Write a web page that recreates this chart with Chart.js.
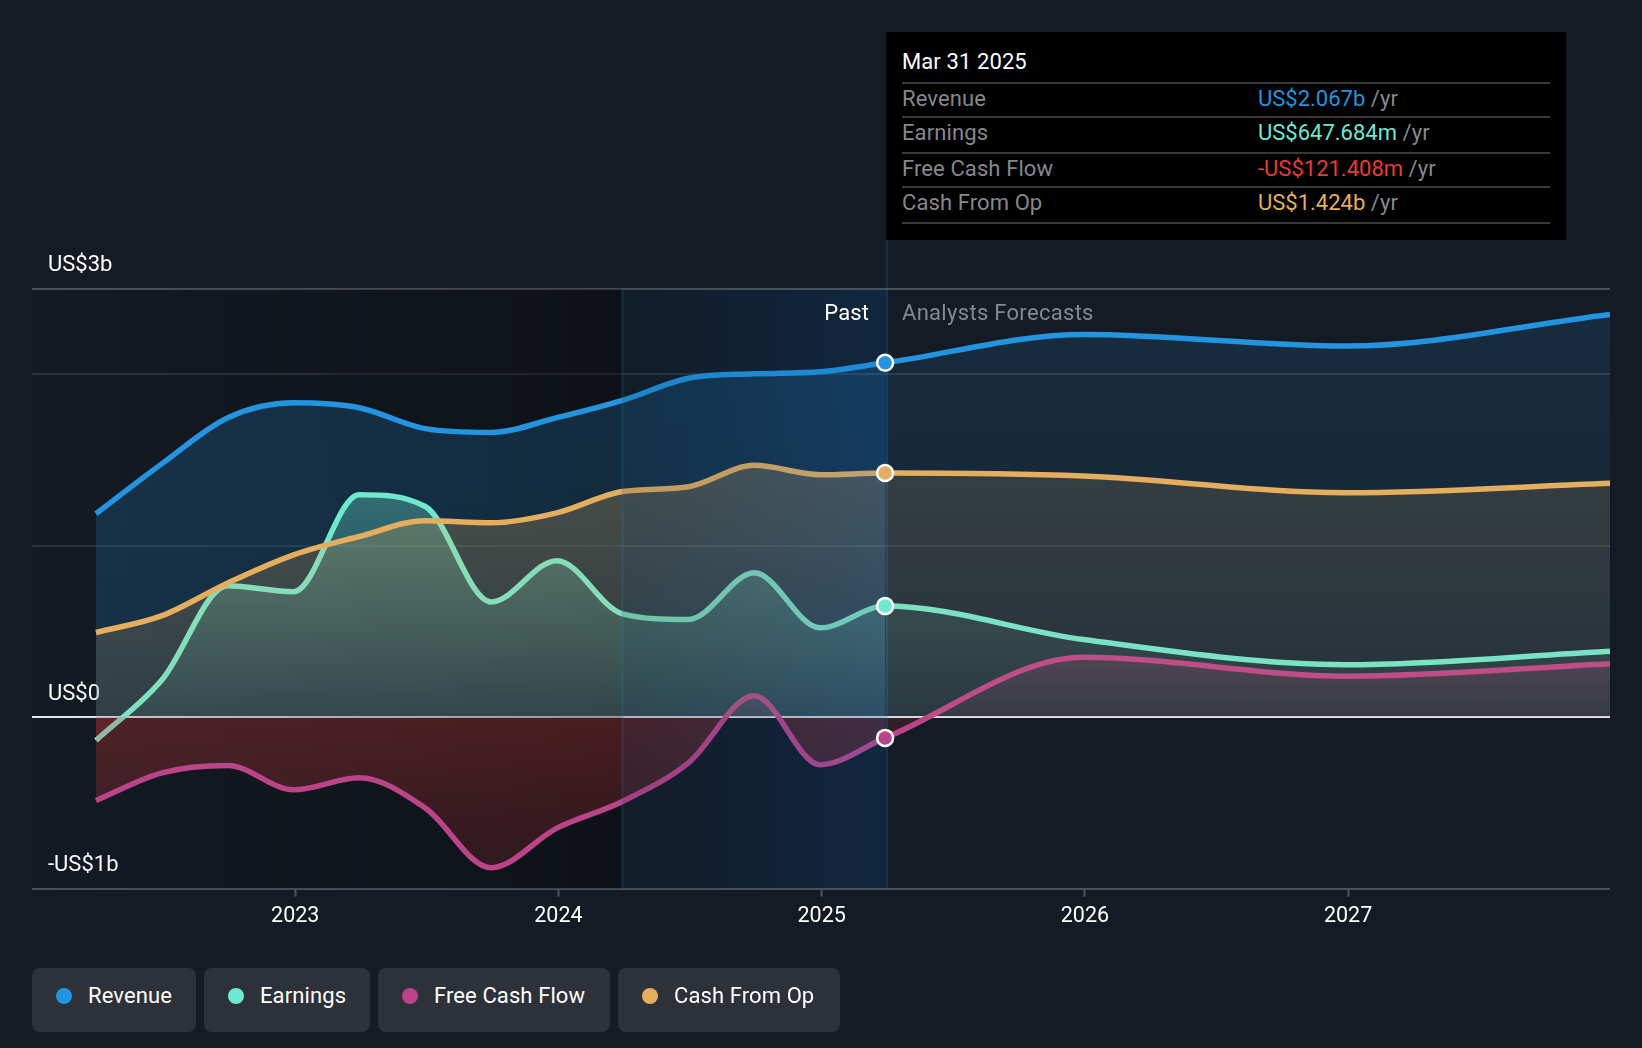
<!DOCTYPE html>
<html><head><meta charset="utf-8">
<script src="https://cdn.jsdelivr.net/npm/chart.js@4"></script>
<style>
html,body{margin:0;padding:0;background:#151b24;width:1642px;height:1048px;overflow:hidden;font-family:Roboto,sans-serif;}
#wrap{position:absolute;left:0;top:0;width:1642px;height:1048px;}
canvas{position:absolute;left:0;top:0;}
.t{position:absolute;white-space:nowrap;font-size:22px;letter-spacing:.1px;line-height:26px;color:#fff;}
.t span{letter-spacing:0;}
.tip{position:absolute;left:886px;top:32px;width:680px;height:208px;background:#000;}
.sep{position:absolute;left:16px;width:648px;height:2px;background:#383838;}
.g{color:#85888c;}
.pill{position:absolute;top:968px;height:64px;background:#2d313a;border-radius:8px;}
.dot{position:absolute;top:20px;left:24px;width:16px;height:16px;border-radius:50%;}
.pill .t{left:56px;top:15px;}
</style></head><body>
<div id="wrap"><canvas id="c" width="1642" height="1048" style="width:1642px;height:1048px"></canvas>
<div class="t" style="right:773px;top:300px;">Past</div>
<div class="t g" style="left:902px;top:300px;letter-spacing:.3px;">Analysts Forecasts</div>
<div class="tip">
 <div class="t" style="left:16px;top:17px;">Mar 31 2025</div>
 <div class="sep" style="top:50px"></div>
 <div class="t g" style="left:16px;top:54px;">Revenue</div>
 <div class="t g" style="left:372px;top:54px;"><span style="color:#2394df">US$2.067b</span> /yr</div>
 <div class="sep" style="top:84px"></div>
 <div class="t g" style="left:16px;top:88px;">Earnings</div>
 <div class="t g" style="left:372px;top:88px;"><span style="color:#6fe8d0">US$647.684m</span> /yr</div>
 <div class="sep" style="top:120px"></div>
 <div class="t g" style="left:16px;top:124px;">Free Cash Flow</div>
 <div class="t g" style="left:372px;top:124px;"><span style="color:#e93a3a">-US$121.408m</span> /yr</div>
 <div class="sep" style="top:154px"></div>
 <div class="t g" style="left:16px;top:158px;">Cash From Op</div>
 <div class="t g" style="left:372px;top:158px;"><span style="color:#e5ae5e">US$1.424b</span> /yr</div>
 <div class="sep" style="top:190px"></div>
</div>
<div class="pill" style="left:32px;width:164px"><div class="dot" style="background:#2394df"></div><div class="t">Revenue</div></div>
<div class="pill" style="left:204px;width:166px"><div class="dot" style="background:#6fe8d0"></div><div class="t">Earnings</div></div>
<div class="pill" style="left:378px;width:232px"><div class="dot" style="background:#bb4488"></div><div class="t">Free Cash Flow</div></div>
<div class="pill" style="left:618px;width:222px"><div class="dot" style="background:#e5ae5e"></div><div class="t">Cash From Op</div></div>
</div>
<script>
// Time axis in decimal years; 2025.241 = Mar 31 2025
const years = [2022.243,2022.494,2022.744,2022.994,2023.243,2023.494,2023.744,2023.994,2024.243,2024.494,2024.744,2024.994,2025.241,2025.994,2026.994,2027.995];
const revenue  = [1.187,1.479,1.747,1.834,1.805,1.683,1.661,1.747,1.848,1.977,2.003,2.015,2.067,2.232,2.165,2.349];
const earnings = [-0.136,0.218,0.767,0.732,1.298,1.229,0.672,0.913,0.603,0.570,0.842,0.521,0.648,0.453,0.306,0.385];
const freeCashFlow = [-0.486,-0.325,-0.282,-0.424,-0.354,-0.530,-0.878,-0.647,-0.492,-0.266,0.125,-0.277,-0.121,0.349,0.239,0.312];
const cashFromOp = [0.494,0.592,0.783,0.947,1.054,1.146,1.134,1.192,1.316,1.344,1.469,1.414,1.424,1.407,1.309,1.364];
const yTicks = [-1,0,1,2,2.5];
const yLabels = {"-1":"-US$1b","0":"US$0","2.5":"US$3b"};
const xTicks = [2023,2024,2025,2026,2027];
const NOW = 2025.241, BAND_START = 2024.243;
const C = {rev:'#2394df',ear:'#6fe8d0',fcf:'#bb4488',cfo:'#e5ae5e'};

const cache = {};
function grad(chart,key,stops){
  if(cache[key]) return cache[key];
  const s=chart.scales.y,a=chart.chartArea;
  const g=chart.ctx.createLinearGradient(0,a.top,0,a.bottom);
  stops.forEach(([v,c])=>{
    const o=(s.getPixelForValue(v)-a.top)/(a.bottom-a.top);
    g.addColorStop(Math.min(1,Math.max(0,o)),c);
  });
  return cache[key]=g;
}
const RED='233,58,58', rgbRev='35,148,223', rgbEar='111,232,208', rgbFcf='187,68,136', rgbCfo='229,174,94';
const fills={
 rev:{past:[[2.5,`rgba(${rgbRev},.21)`],[0,`rgba(${rgbRev},.18)`],[0,'rgba(0,0,0,0)']],
      fut:[[2.5,`rgba(${rgbRev},.14)`],[0,`rgba(${rgbRev},.10)`],[0,'rgba(0,0,0,0)']]},
 ear:{past:[[1.4,`rgba(${rgbEar},.36)`],[0,`rgba(${rgbEar},.07)`],[0,`rgba(${RED},.12)`],[-1,`rgba(${RED},.1)`]],
      fut:[[0.65,`rgba(${rgbEar},.12)`],[0,`rgba(${rgbEar},.04)`],[0,'rgba(0,0,0,0)']]},
 fcf:{past:[[0.2,`rgba(${rgbFcf},.25)`],[0,`rgba(${rgbFcf},.12)`],[0,`rgba(${RED},.27)`],[-1,`rgba(${RED},.13)`]],
      fut:[[0.35,`rgba(${rgbFcf},.22)`],[0,`rgba(${rgbFcf},.08)`],[0,`rgba(${RED},.14)`],[-1,`rgba(${RED},.1)`]]},
 cfo:{past:[[1.5,`rgba(${rgbCfo},.27)`],[0,`rgba(${rgbCfo},.12)`],[0,'rgba(0,0,0,0)']],
      fut:[[1.4,`rgba(${rgbCfo},.15)`],[0,`rgba(${rgbCfo},.08)`],[0,'rgba(0,0,0,0)']]}
};
function series(label,vals,key,order){
  return {label,order,data:vals.map((v,i)=>({x:years[i],y:v})),borderColor:C[key],borderWidth:5.5,
    pointRadius:0,cubicInterpolationMode:'monotone',fill:'origin',borderCapStyle:'butt',
    segment:{backgroundColor:c=>c.p0.parsed.x>=NOW?grad(c.chart,key+'f',fills[key].fut):grad(c.chart,key+'p',fills[key].past)}};
}
const idx=years.indexOf(NOW);
const overlay={
 id:'overlay',
 beforeDatasetsDraw(chart){
  const {ctx,chartArea:a,scales:{x}}=chart;
  const xb=x.getPixelForValue(BAND_START);
  const g=ctx.createLinearGradient(a.left,0,xb,0);
  g.addColorStop(0,'rgba(0,0,0,0)');g.addColorStop(1,'rgba(0,0,0,.34)');
  ctx.save();ctx.fillStyle=g;ctx.fillRect(a.left,a.top,xb-a.left,a.bottom-a.top);ctx.restore();
 },
 afterDatasetDraw(chart,args){
  if(chart.data.datasets[args.index].label!=='Cash From Op') return;
  const {ctx,chartArea:a,scales:{x}}=chart;
  const xb=x.getPixelForValue(BAND_START),xn=x.getPixelForValue(NOW)+2;
  const g=ctx.createLinearGradient(xb,0,xn,0);
  g.addColorStop(0,'rgba(0,40,70,.15)');g.addColorStop(1,'rgba(2,103,211,.16)');
  ctx.save();ctx.fillStyle=g;ctx.fillRect(xb,a.top,xn-xb,a.bottom-a.top);
  ctx.strokeStyle='rgba(60,130,180,.2)';ctx.lineWidth=2;
  ctx.beginPath();ctx.moveTo(xb,a.top);ctx.lineTo(xb,a.bottom);ctx.stroke();
  ctx.beginPath();ctx.moveTo(xn,240);ctx.lineTo(xn,a.bottom);ctx.stroke();
  ctx.restore();
 }
};
new Chart(document.getElementById('c'),{
 type:'line',
 data:{datasets:[
  series('Revenue',revenue,'rev',4),
  series('Earnings',earnings,'ear',3),
  series('Free Cash Flow',freeCashFlow,'fcf',2),
  series('Cash From Op',cashFromOp,'cfo',1),
  {label:'Mar 31 2025',order:0,showLine:false,fill:false,
   data:[revenue,earnings,freeCashFlow,cashFromOp].map(s=>({x:NOW,y:s[idx]})),
   pointRadius:8,pointBorderWidth:2.5,pointBorderColor:'#fff',
   pointBackgroundColor:[C.rev,C.ear,C.fcf,C.cfo]}
 ]},
 options:{
  responsive:false,animation:false,devicePixelRatio:1,
  layout:{padding:{left:32,right:32,top:288.6,bottom:119.4}},
  plugins:{legend:{display:false},tooltip:{enabled:false}},
  events:[],
  scales:{
   x:{type:'linear',min:2022,max:2027.995,
      afterBuildTicks:s=>{s.ticks=xTicks.map(v=>({value:v}));},
      afterFit:s=>{s.height=40;},
      border:{display:false},
      grid:{drawOnChartArea:false,drawTicks:true,tickLength:8,tickColor:'#50555b',tickWidth:2},
      ticks:{color:'#fff',font:{family:'Roboto',size:21.5},padding:7,maxRotation:0,autoSkip:false,callback:v=>String(v)}},
   y:{type:'linear',min:-1,max:2.5,
      afterBuildTicks:s=>{s.ticks=yTicks.map(v=>({value:v}));},
      afterFit:s=>{s.width=0;},
      border:{display:false},
      grid:{drawTicks:false,tickLength:0,lineWidth:2,
        color:c=>{const v=c.tick&&c.tick.value;return v===0?'#e8e8ea':(v===2.5||v===-1)?'#4c5157':'#2d3238';}},
      ticks:{mirror:true,padding:16,labelOffset:-23,color:'#fff',font:{family:'Roboto',size:22},autoSkip:false,
        callback:v=>yLabels[String(v)]||''}}
  }
 },
 plugins:[overlay]
});
</script>
</body></html>
